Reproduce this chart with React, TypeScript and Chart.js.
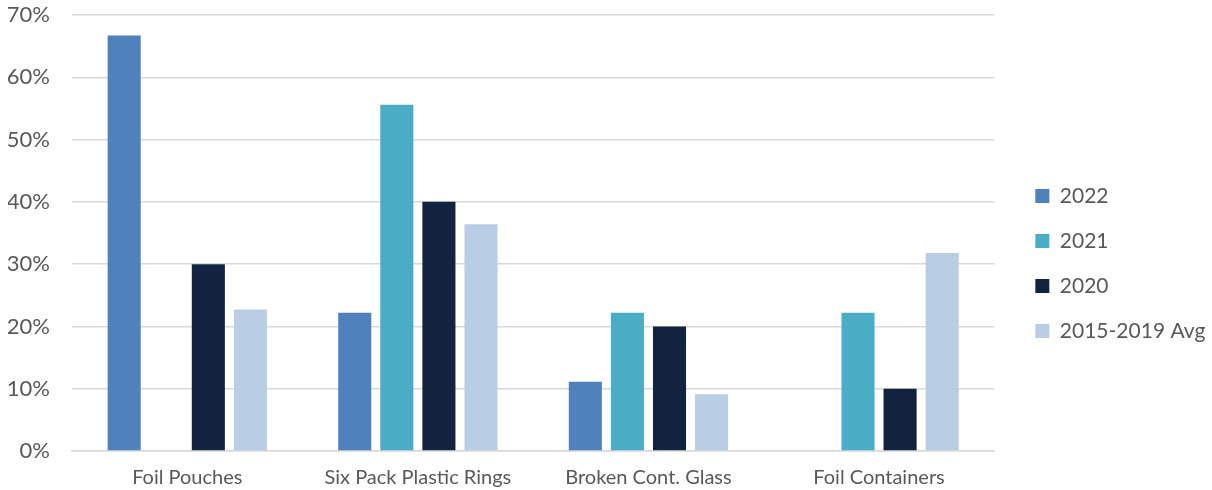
import React, { useEffect, useRef } from "react";
import { Chart, registerables } from "chart.js";

Chart.register(...registerables);

const categories = ["Foil Pouches", "Six Pack Plastic Rings", "Broken Cont. Glass", "Foil Containers"];
const seriesNames = ["2022", "2021", "2020", "2015-2019 Avg"];
const values2022 = [66.7, 22.2, 11.1, 0];
const values2021 = [0, 55.6, 22.2, 22.2];
const values2020 = [30, 40, 20, 10];
const valuesAvg = [22.7, 36.4, 9.1, 31.8];
const colors = ["#4F81BD", "#4BACC6", "#12233F", "#B9CDE5"];

const FONT = "Lato, 'Open Sans', sans-serif";

export default function App() {
  const ref = useRef<HTMLCanvasElement | null>(null);
  useEffect(() => {
    document.body.style.margin = "0";
    const ctx = ref.current!;
    const series = [values2022, values2021, values2020, valuesAvg];
    const chart = new Chart(ctx, {
      type: "bar",
      data: {
        labels: categories,
        datasets: series.map((d, i) => ({
          label: seriesNames[i],
          data: d,
          backgroundColor: colors[i],
          borderWidth: 0,
          barPercentage: 0.786,
          categoryPercentage: 0.73,
        })),
      },
      plugins: [
        {
          id: "shiftLegend",
          afterLayout(c: any) {
            if (c.legend) c.legend.top += 22;
          },
        },
      ],
      options: {
        responsive: false,
        animation: false,
        layout: { autoPadding: false, padding: { left: 8, top: 15, right: 0, bottom: 0 } },
        plugins: {
          tooltip: { enabled: false },
          legend: {
            position: "right",
            align: "center",
            labels: {
              boxWidth: 14,
              boxHeight: 14,
              padding: 24,
              color: "#595959",
              font: { family: FONT, size: 21 },
            },
          },
        },
        scales: {
          x: {
            grid: { display: false, drawTicks: false, tickLength: 0 },
            border: { display: true, color: "#d9d9d9", width: 1.5 },
            ticks: {
              color: "#595959",
              padding: 15,
              font: { family: FONT, size: 20 },
            },
            afterFit: (s: any) => { s.height = 39; },
          },
          y: {
            min: 0,
            max: 70,
            border: { display: false },
            grid: { color: "#d9d9d9", lineWidth: 1.5, drawTicks: false },
            ticks: {
              stepSize: 10,
              padding: 22,
              color: "#595959",
              font: { family: FONT, size: 22 },
              callback: (v: any) => v + "%",
            },
            afterFit: (s: any) => {
              s.width = 64;
              s.paddingTop = 0;
              s.paddingBottom = 0;
            },
          },
          yr: {
            position: "right",
            display: true,
            min: 0,
            max: 1,
            grid: { display: false, drawTicks: false },
            border: { display: false },
            ticks: { display: false },
            afterFit: (s: any) => {
              s.width = 17;
              s.paddingTop = 0;
              s.paddingBottom = 0;
            },
          },
        },
      },
    });
    return () => chart.destroy();
  }, []);
  return <canvas ref={ref} width={1212} height={490} style={{ display: "block" }} />;
}
